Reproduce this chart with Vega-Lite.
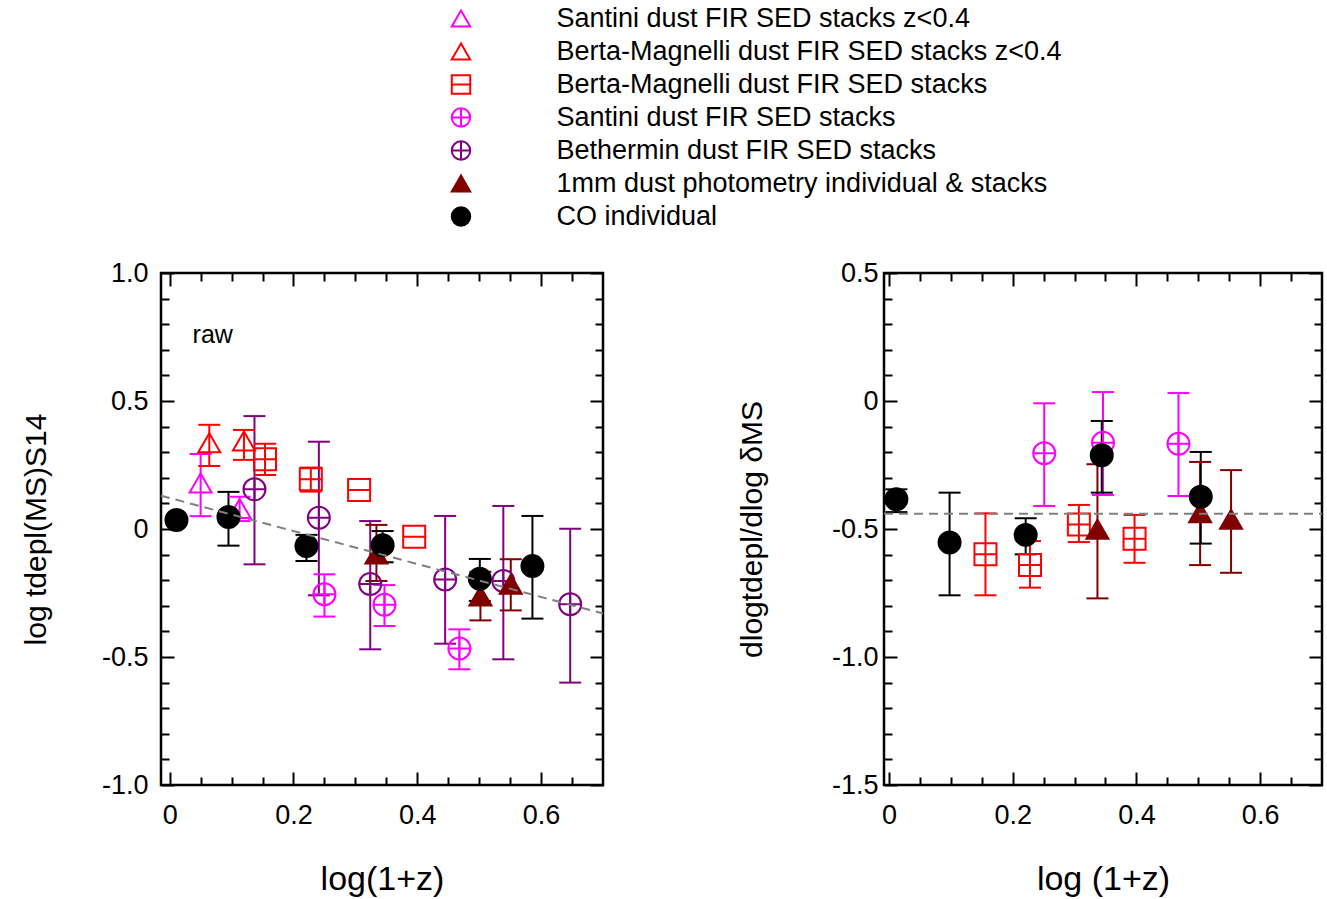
{
  "$schema": "https://vega.github.io/schema/vega-lite/v6.json",
  "padding": {"left": 20, "top": 2, "right": 5, "bottom": 5},
  "config": {
    "font": "Liberation Sans",
    "view": {"stroke": "black", "strokeWidth": 2.5},
    "axis": {"labelFont": "Liberation Sans", "titleFont": "Liberation Sans", "labelColor": "black", "titleColor": "black", "tickColor": "black", "tickWidth": 2, "titleFontWeight": "normal", "grid": false, "labelFontSize": 27, "titleFontSize": 34}
  },
  "datasets": {
    "leg": [
      {"s": "Santini dust FIR SED stacks z<0.4"},
      {"s": "Berta-Magnelli dust FIR SED stacks z<0.4"},
      {"s": "Berta-Magnelli dust FIR SED stacks"},
      {"s": "Santini dust FIR SED stacks"},
      {"s": "Bethermin dust FIR SED stacks"},
      {"s": "1mm dust photometry individual & stacks"},
      {"s": "CO individual"}
    ],
    "pts": [
      {"p": "L", "s": "Santini dust FIR SED stacks z<0.4", "x": 0.050, "y": 0.18, "lo": 0.05, "hi": 0.293},
      {"p": "L", "s": "Santini dust FIR SED stacks z<0.4", "x": 0.113, "y": 0.08, "lo": 0.031, "hi": 0.126},
      {"p": "L", "s": "Berta-Magnelli dust FIR SED stacks z<0.4", "x": 0.064, "y": 0.337, "lo": 0.246, "hi": 0.407},
      {"p": "L", "s": "Berta-Magnelli dust FIR SED stacks z<0.4", "x": 0.120, "y": 0.344, "lo": 0.27, "hi": 0.387},
      {"p": "L", "s": "Berta-Magnelli dust FIR SED stacks", "x": 0.154, "y": 0.272, "lo": 0.211, "hi": 0.333},
      {"p": "L", "s": "Berta-Magnelli dust FIR SED stacks", "x": 0.228, "y": 0.194, "lo": 0.146, "hi": 0.24},
      {"p": "L", "s": "Berta-Magnelli dust FIR SED stacks", "x": 0.306, "y": 0.152, "lo": null, "hi": null},
      {"p": "L", "s": "Berta-Magnelli dust FIR SED stacks", "x": 0.395, "y": -0.03, "lo": null, "hi": null},
      {"p": "L", "s": "Santini dust FIR SED stacks", "x": 0.250, "y": -0.255, "lo": -0.342, "hi": -0.177},
      {"p": "L", "s": "Santini dust FIR SED stacks", "x": 0.347, "y": -0.296, "lo": -0.379, "hi": -0.219},
      {"p": "L", "s": "Santini dust FIR SED stacks", "x": 0.468, "y": -0.467, "lo": -0.548, "hi": -0.392},
      {"p": "L", "s": "Bethermin dust FIR SED stacks", "x": 0.137, "y": 0.155, "lo": -0.138, "hi": 0.441},
      {"p": "L", "s": "Bethermin dust FIR SED stacks", "x": 0.241, "y": 0.044, "lo": -0.259, "hi": 0.341},
      {"p": "L", "s": "Bethermin dust FIR SED stacks", "x": 0.324, "y": -0.215, "lo": -0.47, "hi": 0.031},
      {"p": "L", "s": "Bethermin dust FIR SED stacks", "x": 0.445, "y": -0.197, "lo": -0.448, "hi": 0.051},
      {"p": "L", "s": "Bethermin dust FIR SED stacks", "x": 0.539, "y": -0.203, "lo": -0.509, "hi": 0.09},
      {"p": "L", "s": "Bethermin dust FIR SED stacks", "x": 0.647, "y": -0.294, "lo": -0.6, "hi": 0.001},
      {"p": "L", "s": "1mm dust photometry individual & stacks", "x": 0.334, "y": -0.098, "lo": -0.203, "hi": 0.016},
      {"p": "L", "s": "1mm dust photometry individual & stacks", "x": 0.502, "y": -0.262, "lo": -0.357, "hi": -0.167},
      {"p": "L", "s": "1mm dust photometry individual & stacks", "x": 0.551, "y": -0.216, "lo": -0.318, "hi": -0.118},
      {"p": "L", "s": "CO individual", "x": 0.011, "y": 0.035, "lo": null, "hi": null},
      {"p": "L", "s": "CO individual", "x": 0.095, "y": 0.047, "lo": -0.065, "hi": 0.145},
      {"p": "L", "s": "CO individual", "x": 0.221, "y": -0.066, "lo": -0.125, "hi": -0.023},
      {"p": "L", "s": "CO individual", "x": 0.344, "y": -0.063, "lo": -0.13, "hi": -0.008},
      {"p": "L", "s": "CO individual", "x": 0.501, "y": -0.194, "lo": -0.281, "hi": -0.117},
      {"p": "L", "s": "CO individual", "x": 0.586, "y": -0.145, "lo": -0.35, "hi": 0.051},
      {"p": "R", "s": "Berta-Magnelli dust FIR SED stacks", "x": 0.156, "y": -0.599, "lo": -0.759, "hi": -0.439},
      {"p": "R", "s": "Berta-Magnelli dust FIR SED stacks", "x": 0.228, "y": -0.641, "lo": -0.729, "hi": -0.547},
      {"p": "R", "s": "Berta-Magnelli dust FIR SED stacks", "x": 0.307, "y": -0.482, "lo": -0.551, "hi": -0.406},
      {"p": "R", "s": "Berta-Magnelli dust FIR SED stacks", "x": 0.397, "y": -0.538, "lo": -0.632, "hi": -0.445},
      {"p": "R", "s": "Santini dust FIR SED stacks", "x": 0.251, "y": -0.204, "lo": -0.41, "hi": -0.009},
      {"p": "R", "s": "Santini dust FIR SED stacks", "x": 0.346, "y": -0.163, "lo": -0.367, "hi": 0.035},
      {"p": "R", "s": "Santini dust FIR SED stacks", "x": 0.468, "y": -0.167, "lo": -0.371, "hi": 0.031},
      {"p": "R", "s": "1mm dust photometry individual & stacks", "x": 0.337, "y": -0.501, "lo": -0.771, "hi": -0.247},
      {"p": "R", "s": "1mm dust photometry individual & stacks", "x": 0.503, "y": -0.436, "lo": -0.641, "hi": -0.238},
      {"p": "R", "s": "1mm dust photometry individual & stacks", "x": 0.553, "y": -0.462, "lo": -0.671, "hi": -0.27},
      {"p": "R", "s": "CO individual", "x": 0.012, "y": -0.384, "lo": -0.434, "hi": -0.345},
      {"p": "R", "s": "CO individual", "x": 0.098, "y": -0.553, "lo": -0.759, "hi": -0.358},
      {"p": "R", "s": "CO individual", "x": 0.221, "y": -0.523, "lo": -0.599, "hi": -0.458},
      {"p": "R", "s": "CO individual", "x": 0.344, "y": -0.212, "lo": -0.358, "hi": -0.078},
      {"p": "R", "s": "CO individual", "x": 0.504, "y": -0.374, "lo": -0.557, "hi": -0.199}
    ],
    "lines": [
      {"p": "L", "x": -0.014, "y": 0.13},
      {"p": "L", "x": 0.7, "y": -0.33},
      {"p": "R", "x": -0.008, "y": -0.44},
      {"p": "R", "x": 0.7, "y": -0.44}
    ],
    "notes": [
      {"p": "L", "x": 0.037, "y": 0.727, "t": "raw"}
    ]
  },
  "spacing": 24,
  "vconcat": [
    {
      "width": 310,
      "height": 231,
      "data": {"name": "leg"},
      "view": {"stroke": null},
      "mark": {"type": "point", "size": 340, "strokeWidth": 2, "opacity": 1},
      "encoding": {
        "x": {"datum": 30, "type": "quantitative", "scale": {"domain": [0, 31], "nice": false, "zero": false}, "axis": null},
        "y": {"field": "s", "type": "nominal", "sort": null,
          "scale": {"domain": ["Santini dust FIR SED stacks z<0.4", "Berta-Magnelli dust FIR SED stacks z<0.4", "Berta-Magnelli dust FIR SED stacks", "Santini dust FIR SED stacks", "Bethermin dust FIR SED stacks", "1mm dust photometry individual & stacks", "CO individual"]},
          "axis": {"orient": "right", "ticks": false, "domain": false, "labelFontSize": 27, "labelPadding": 85, "labelAlign": "left", "labelLimit": 0, "title": null}},
        "shape": {"field": "s", "type": "nominal", "legend": null,
          "scale": {"domain": ["Santini dust FIR SED stacks z<0.4", "Berta-Magnelli dust FIR SED stacks z<0.4", "Berta-Magnelli dust FIR SED stacks", "Santini dust FIR SED stacks", "Bethermin dust FIR SED stacks", "1mm dust photometry individual & stacks", "CO individual"], "range": ["triangle-up", "triangle-up", "M-1,-1L1,-1L1,1L-1,1ZM-1,0L1,0", "M-1,0A1,1,0,1,0,1,0A1,1,0,1,0,-1,0ZM-1,0L1,0M0,-1L0,1", "M-1,0A1,1,0,1,0,1,0A1,1,0,1,0,-1,0ZM-1,0L1,0M0,-1L0,1", "triangle-up", "circle"]}},
        "stroke": {"field": "s", "type": "nominal", "legend": null,
          "scale": {"domain": ["Santini dust FIR SED stacks z<0.4", "Berta-Magnelli dust FIR SED stacks z<0.4", "Berta-Magnelli dust FIR SED stacks", "Santini dust FIR SED stacks", "Bethermin dust FIR SED stacks", "1mm dust photometry individual & stacks", "CO individual"], "range": ["#FF00FF", "#FF0000", "#FF0000", "#FF00FF", "#800080", "#800000", "#000000"]}},
        "fill": {"field": "s", "type": "nominal", "legend": null,
          "scale": {"domain": ["Santini dust FIR SED stacks z<0.4", "Berta-Magnelli dust FIR SED stacks z<0.4", "Berta-Magnelli dust FIR SED stacks", "Santini dust FIR SED stacks", "Bethermin dust FIR SED stacks", "1mm dust photometry individual & stacks", "CO individual"], "range": ["transparent", "transparent", "transparent", "transparent", "transparent", "#800000", "#000000"]}}
      }
    },
    {
      "spacing": 127,
      "hconcat": [
        {
          "width": 442,
          "height": 512,
          "data": {"name": "pts"},
          "transform": [{"filter": "datum.p == 'L'"}],
          "resolve": {"axis": {"x": "independent", "y": "independent"}},
          "layer": [
            {
              "transform": [{"filter": "isValid(datum.lo)"}],
              "mark": {"type": "rule", "strokeWidth": 2},
              "encoding": {
                "x": {"field": "x", "type": "quantitative", "scale": {"domain": [-0.014, 0.7], "nice": false, "zero": false},
                  "axis": {"orient": "bottom", "values": [0, 0.2, 0.4, 0.6], "ticks": false, "domain": false, "labelExpr": "datum.value == 0 ? '0' : format(datum.value, '.1f')", "labelPadding": 17, "title": "log(1+z)", "titleFontSize": 34, "titlePadding": 34}},
                "y": {"field": "lo", "type": "quantitative", "scale": {"domain": [-1, 1], "nice": false, "zero": false},
                  "axis": {"orient": "left", "values": [-1, -0.5, 0, 0.5, 1], "ticks": false, "domain": false, "labelExpr": "datum.value == 0 ? '0' : (datum.value < 0 ? '-' : '') + format(abs(datum.value), '.1f')", "labelPadding": 13, "title": "log tdepl(MS)S14", "titleFontSize": 30, "titlePadding": 50}},
                "y2": {"field": "hi"},
                "color": {"field": "s", "type": "nominal", "legend": null, "scale": {"domain": ["Santini dust FIR SED stacks z<0.4", "Berta-Magnelli dust FIR SED stacks z<0.4", "Berta-Magnelli dust FIR SED stacks", "Santini dust FIR SED stacks", "Bethermin dust FIR SED stacks", "1mm dust photometry individual & stacks", "CO individual"], "range": ["#FF00FF", "#FF0000", "#FF0000", "#FF00FF", "#800080", "#800000", "#000000"]}}
              }
            },
            {
              "transform": [{"filter": "isValid(datum.lo)"}],
              "mark": {"type": "tick", "orient": "horizontal", "size": 22, "thickness": 2, "opacity": 1},
              "encoding": {
                "x": {"field": "x", "type": "quantitative", "axis": {"orient": "bottom", "values": [0, 0.2, 0.4, 0.6], "labels": false, "domain": false, "tickSize": -13, "title": null}},
                "y": {"field": "lo", "type": "quantitative", "axis": {"orient": "left", "values": [-1, -0.5, 0, 0.5, 1], "labels": false, "domain": false, "tickSize": -13, "title": null}},
                "color": {"field": "s", "type": "nominal", "legend": null}
              }
            },
            {
              "transform": [{"filter": "isValid(datum.hi)"}],
              "mark": {"type": "tick", "orient": "horizontal", "size": 22, "thickness": 2, "opacity": 1},
              "encoding": {
                "x": {"field": "x", "type": "quantitative", "axis": {"orient": "bottom", "values": [0.05, 0.1, 0.15, 0.25, 0.3, 0.35, 0.45, 0.5, 0.55, 0.65], "labels": false, "domain": false, "tickSize": -8, "title": null}},
                "y": {"field": "hi", "type": "quantitative", "axis": {"orient": "left", "values": [-0.9, -0.8, -0.7, -0.6, -0.4, -0.3, -0.2, -0.1, 0.1, 0.2, 0.3, 0.4, 0.6, 0.7, 0.8, 0.9], "labels": false, "domain": false, "tickSize": -8, "title": null}},
                "color": {"field": "s", "type": "nominal", "legend": null}
              }
            },
            {
              "mark": {"type": "point", "size": 484, "strokeWidth": 2, "opacity": 1},
              "encoding": {
                "x": {"field": "x", "type": "quantitative", "axis": {"orient": "top", "values": [0, 0.2, 0.4, 0.6], "labels": false, "domain": false, "tickSize": -13, "title": null}},
                "y": {"field": "y", "type": "quantitative", "axis": {"orient": "right", "values": [-1, -0.5, 0, 0.5, 1], "labels": false, "domain": false, "tickSize": -13, "title": null}},
                "shape": {"field": "s", "type": "nominal", "legend": null},
                "stroke": {"field": "s", "type": "nominal", "legend": null},
                "fill": {"field": "s", "type": "nominal", "legend": null}
              }
            },
            {
              "data": {"name": "lines"},
              "transform": [{"filter": "datum.p == 'L'"}],
              "mark": {"type": "line", "strokeDash": [9, 6], "color": "#808080", "strokeWidth": 2},
              "encoding": {
                "x": {"field": "x", "type": "quantitative", "axis": {"orient": "top", "values": [0.05, 0.1, 0.15, 0.25, 0.3, 0.35, 0.45, 0.5, 0.55, 0.65], "labels": false, "domain": false, "tickSize": -8, "title": null}},
                "y": {"field": "y", "type": "quantitative", "axis": {"orient": "right", "values": [-0.9, -0.8, -0.7, -0.6, -0.4, -0.3, -0.2, -0.1, 0.1, 0.2, 0.3, 0.4, 0.6, 0.7, 0.8, 0.9], "labels": false, "domain": false, "tickSize": -8, "title": null}}
              }
            },
            {
              "data": {"name": "notes"},
              "transform": [{"filter": "datum.p == 'L'"}],
              "mark": {"type": "text", "font": "Liberation Sans", "fontSize": 25, "align": "left", "baseline": "alphabetic", "color": "black"},
              "encoding": {
                "x": {"field": "x", "type": "quantitative", "axis": null},
                "y": {"field": "y", "type": "quantitative", "axis": null},
                "text": {"field": "t"}
              }
            }
          ]
        },
        {
          "width": 438,
          "height": 512,
          "data": {"name": "pts"},
          "transform": [{"filter": "datum.p == 'R'"}],
          "resolve": {"axis": {"x": "independent", "y": "independent"}},
          "layer": [
            {
              "transform": [{"filter": "isValid(datum.lo)"}],
              "mark": {"type": "rule", "strokeWidth": 2},
              "encoding": {
                "x": {"field": "x", "type": "quantitative", "scale": {"domain": [-0.008, 0.7], "nice": false, "zero": false},
                  "axis": {"orient": "bottom", "values": [0, 0.2, 0.4, 0.6], "ticks": false, "domain": false, "labelExpr": "datum.value == 0 ? '0' : format(datum.value, '.1f')", "labelPadding": 17, "title": "log (1+z)", "titleFontSize": 34, "titlePadding": 34}},
                "y": {"field": "lo", "type": "quantitative", "scale": {"domain": [-1.5, 0.5], "nice": false, "zero": false},
                  "axis": {"orient": "left", "values": [-1.5, -1, -0.5, 0, 0.5], "ticks": false, "domain": false, "labelExpr": "datum.value == 0 ? '0' : (datum.value < 0 ? '-' : '') + format(abs(datum.value), '.1f')", "labelPadding": 6, "title": "dlogtdepl/dlog δMS", "titleFontSize": 30, "titlePadding": 64}},
                "y2": {"field": "hi"},
                "color": {"field": "s", "type": "nominal", "legend": null}
              }
            },
            {
              "transform": [{"filter": "isValid(datum.lo)"}],
              "mark": {"type": "tick", "orient": "horizontal", "size": 22, "thickness": 2, "opacity": 1},
              "encoding": {
                "x": {"field": "x", "type": "quantitative", "axis": {"orient": "bottom", "values": [0, 0.2, 0.4, 0.6], "labels": false, "domain": false, "tickSize": -13, "title": null}},
                "y": {"field": "lo", "type": "quantitative", "axis": {"orient": "left", "values": [-1.5, -1, -0.5, 0, 0.5], "labels": false, "domain": false, "tickSize": -13, "title": null}},
                "color": {"field": "s", "type": "nominal", "legend": null}
              }
            },
            {
              "transform": [{"filter": "isValid(datum.hi)"}],
              "mark": {"type": "tick", "orient": "horizontal", "size": 22, "thickness": 2, "opacity": 1},
              "encoding": {
                "x": {"field": "x", "type": "quantitative", "axis": {"orient": "bottom", "values": [0.05, 0.1, 0.15, 0.25, 0.3, 0.35, 0.45, 0.5, 0.55, 0.65], "labels": false, "domain": false, "tickSize": -8, "title": null}},
                "y": {"field": "hi", "type": "quantitative", "axis": {"orient": "left", "values": [-1.4, -1.3, -1.2, -1.1, -0.9, -0.8, -0.7, -0.6, -0.4, -0.3, -0.2, -0.1, 0.1, 0.2, 0.3, 0.4], "labels": false, "domain": false, "tickSize": -8, "title": null}},
                "color": {"field": "s", "type": "nominal", "legend": null}
              }
            },
            {
              "mark": {"type": "point", "size": 484, "strokeWidth": 2, "opacity": 1},
              "encoding": {
                "x": {"field": "x", "type": "quantitative", "axis": {"orient": "top", "values": [0, 0.2, 0.4, 0.6], "labels": false, "domain": false, "tickSize": -13, "title": null}},
                "y": {"field": "y", "type": "quantitative", "axis": {"orient": "right", "values": [-1.5, -1, -0.5, 0, 0.5], "labels": false, "domain": false, "tickSize": -13, "title": null}},
                "shape": {"field": "s", "type": "nominal", "legend": null},
                "stroke": {"field": "s", "type": "nominal", "legend": null},
                "fill": {"field": "s", "type": "nominal", "legend": null}
              }
            },
            {
              "data": {"name": "lines"},
              "transform": [{"filter": "datum.p == 'R'"}],
              "mark": {"type": "line", "strokeDash": [9, 6], "color": "#808080", "strokeWidth": 2},
              "encoding": {
                "x": {"field": "x", "type": "quantitative", "axis": {"orient": "top", "values": [0.05, 0.1, 0.15, 0.25, 0.3, 0.35, 0.45, 0.5, 0.55, 0.65], "labels": false, "domain": false, "tickSize": -8, "title": null}},
                "y": {"field": "y", "type": "quantitative", "axis": {"orient": "right", "values": [-1.4, -1.3, -1.2, -1.1, -0.9, -0.8, -0.7, -0.6, -0.4, -0.3, -0.2, -0.1, 0.1, 0.2, 0.3, 0.4], "labels": false, "domain": false, "tickSize": -8, "title": null}}
              }
            }
          ]
        }
      ]
    }
  ]
}
